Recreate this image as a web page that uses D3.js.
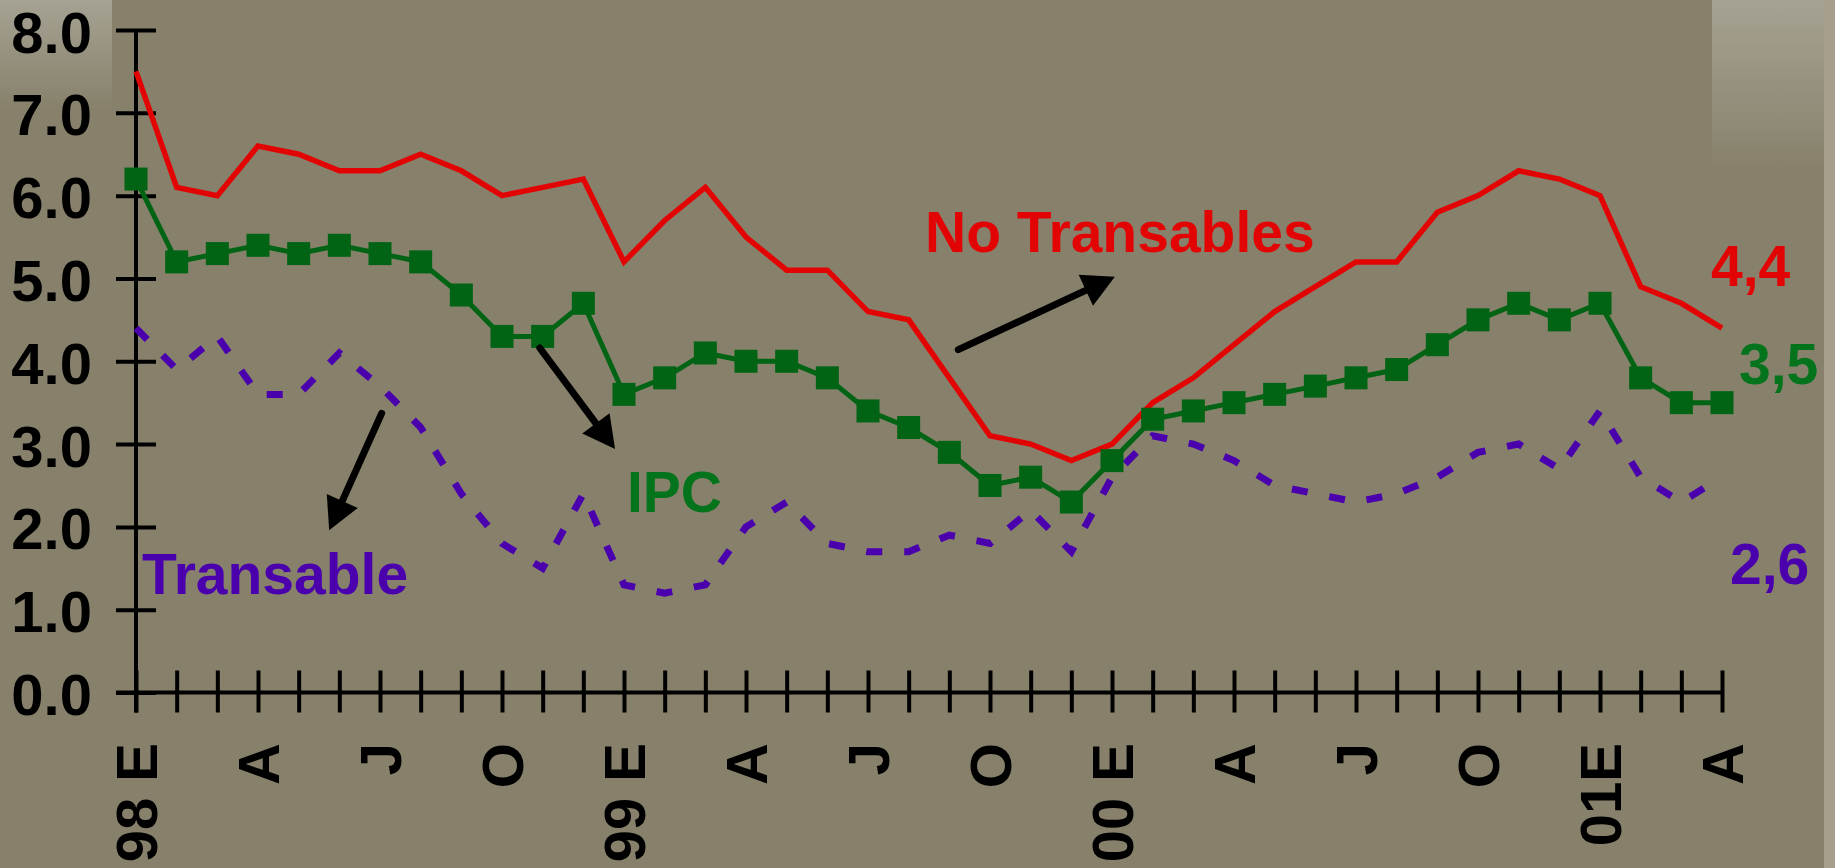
<!DOCTYPE html>
<html>
<head>
<meta charset="utf-8">
<script src="https://cdn.jsdelivr.net/npm/d3@7"></script>
<style>
  html, body { margin: 0; padding: 0; background: #87816b; overflow: hidden; }
  svg { display: block; font-family: "Liberation Sans", Arial, sans-serif; font-weight: bold; }
</style>
</head>
<body>
<div id="chart"></div>
<script>
// Monthly series, Jan 98 .. Apr 01
const noTransables = [7.5, 6.1, 6.0, 6.6, 6.5, 6.3, 6.3, 6.5, 6.3, 6.0, 6.1, 6.2, 5.2, 5.7, 6.1, 5.5, 5.1, 5.1, 4.6, 4.5,
                      3.8, 3.1, 3.0, 2.8, 3.0, 3.5, 3.8, 4.2, 4.6, 4.9, 5.2, 5.2, 5.8, 6.0, 6.3, 6.2, 6.0, 4.9, 4.7, 4.4];
const ipc          = [6.2, 5.2, 5.3, 5.4, 5.3, 5.4, 5.3, 5.2, 4.8, 4.3, 4.3, 4.7, 3.6, 3.8, 4.1, 4.0, 4.0, 3.8, 3.4, 3.2,
                      2.9, 2.5, 2.6, 2.3, 2.8, 3.3, 3.4, 3.5, 3.6, 3.7, 3.8, 3.9, 4.2, 4.5, 4.7, 4.5, 4.7, 3.8, 3.5, 3.5];
const transable    = [4.4, 3.9, 4.3, 3.6, 3.6, 4.1, 3.7, 3.2, 2.4, 1.8, 1.5, 2.4, 1.3, 1.2, 1.3, 2.0, 2.3, 1.8, 1.7, 1.7,
                      1.9, 1.8, 2.2, 1.7, 2.6, 3.1, 3.0, 2.8, 2.5, 2.4, 2.3, 2.4, 2.6, 2.9, 3.0, 2.7, 3.4, 2.6, 2.3, 2.6];

// x labels every three months (index -> text)
const labelIndex = [0, 3, 6, 9, 12, 15, 18, 21, 24, 27, 30, 33, 36, 39];
const labelText  = ['98 E', 'A', 'J', 'O', '99 E', 'A', 'J', 'O', '00 E', 'A', 'J', 'O', '01E', 'A'];
const yTicks = [0, 1, 2, 3, 4, 5, 6, 7, 8];

const width = 1835, height = 868;
const colors = { red: '#e20404', green: '#006414', greenText: '#03731c', purple: '#4a00ad', bg: '#87816b' };

const svg = d3.select('#chart').append('svg')
    .attr('width', width)
    .attr('height', height);

// Background with the lighter slide patches
const defs = svg.append('defs');
const grad = defs.append('linearGradient')
    .attr('id', 'fade').attr('x1', 0).attr('y1', 0).attr('x2', 0).attr('y2', 1);
grad.append('stop').attr('offset', '0%').attr('stop-color', '#a6a293');
grad.append('stop').attr('offset', '100%').attr('stop-color', colors.bg);

svg.append('rect').attr('width', width).attr('height', height).attr('fill', colors.bg);
svg.append('rect').attr('x', 0).attr('y', 0).attr('width', 112).attr('height', 110).attr('fill', 'url(#fade)');
svg.append('rect').attr('x', 1712).attr('y', 0).attr('width', 112).attr('height', 170).attr('fill', 'url(#fade)');
svg.append('rect').attr('x', 1824).attr('y', 0).attr('width', 11).attr('height', height).attr('fill', '#a59f8c');

// Scales
const x = d3.scaleLinear().domain([0, noTransables.length - 1]).range([136, 1722]);
const y = d3.scaleLinear().domain([0, 8]).range([692.5, 30]);

// Y axis (ticks cross the axis line)
const yAxis = svg.append('g')
    .attr('transform', `translate(${x(0)},0)`)
    .call(d3.axisLeft(y).tickValues(yTicks).tickSize(20).tickSizeOuter(0).tickFormat(d3.format('.1f')));
yAxis.select('.domain').attr('stroke', '#000').attr('stroke-width', 4)
    .attr('d', `M0,${y(8)}V${y(0) + 20}`);
yAxis.selectAll('.tick line').attr('x1', -20).attr('x2', 20).attr('stroke', '#000').attr('stroke-width', 4);
yAxis.selectAll('.tick text')
    .attr('x', -44).attr('dy', '0.38em')
    .attr('fill', '#000')
    .style('font-size', '58px').style('font-weight', 'bold')
    .style('font-family', '"Liberation Sans", Arial, sans-serif');

// X axis
const xAxis = svg.append('g')
    .attr('transform', `translate(0,${y(0)})`)
    .call(d3.axisBottom(x).tickValues(d3.range(noTransables.length)).tickSize(20).tickSizeOuter(0).tickFormat(''));
xAxis.select('.domain').attr('stroke', '#000').attr('stroke-width', 4)
    .attr('d', `M${x(0) - 20},0H${x(39)}`);
xAxis.selectAll('.tick line').attr('y1', -22).attr('y2', 20).attr('stroke', '#000').attr('stroke-width', 4);

// Rotated month labels
svg.append('g').selectAll('text')
    .data(labelIndex)
    .join('text')
    .attr('transform', d => `translate(${x(d) + 21},743) rotate(-90)`)
    .attr('text-anchor', 'end')
    .attr('fill', '#000')
    .style('font-size', '58px')
    .text((d, i) => labelText[i]);

const line = d3.line().x((d, i) => x(i)).y(d => y(d));

// Transable (dashed purple)
svg.append('path')
    .datum(transable)
    .attr('d', line)
    .attr('fill', 'none')
    .attr('stroke', colors.purple)
    .attr('stroke-width', 7)
    .attr('stroke-dasharray', '16,22');

// No Transables (red)
svg.append('path')
    .datum(noTransables)
    .attr('d', line)
    .attr('fill', 'none')
    .attr('stroke', colors.red)
    .attr('stroke-width', 5.5);

// IPC (green with square markers)
svg.append('path')
    .datum(ipc)
    .attr('d', line)
    .attr('fill', 'none')
    .attr('stroke', colors.green)
    .attr('stroke-width', 5);
svg.append('g').selectAll('rect')
    .data(ipc)
    .join('rect')
    .attr('x', (d, i) => x(i) - 11.5)
    .attr('y', d => y(d) - 11.5)
    .attr('width', 23)
    .attr('height', 23)
    .attr('fill', colors.green);

// Arrows, given in data space (month index, value)
const arrows = [
    { from: [20.22, 4.14], to: [24.07, 5.02] },
    { from: [9.93, 4.16], to: [11.78, 2.94] },
    { from: [6.04, 3.37], to: [4.75, 1.96] }
];
arrows.forEach(a => {
    const x0 = x(a.from[0]), y0 = y(a.from[1]);
    const x1 = x(a.to[0]), y1 = y(a.to[1]);
    const ang = Math.atan2(y1 - y0, x1 - x0);
    const headLen = 32, headHalf = 17;
    const bx = x1 - headLen * Math.cos(ang), by = y1 - headLen * Math.sin(ang);
    svg.append('line')
        .attr('x1', x0).attr('y1', y0).attr('x2', bx + 4 * Math.cos(ang)).attr('y2', by + 4 * Math.sin(ang))
        .attr('stroke', '#000').attr('stroke-width', 7).attr('stroke-linecap', 'round');
    const px = -Math.sin(ang) * headHalf, py = Math.cos(ang) * headHalf;
    svg.append('path')
        .attr('d', `M${x1},${y1}L${bx + px},${by + py}L${bx - px},${by - py}Z`)
        .attr('fill', '#000');
});

// Series annotations
const notes = [
    { text: 'No Transables', x: 925, y: 251.7, color: colors.red },
    { text: 'IPC', x: 627, y: 511.7, color: colors.greenText },
    { text: 'Transable', x: 142, y: 594, color: colors.purple },
    { text: '4,4', x: 1711, y: 286, color: colors.red },
    { text: '3,5', x: 1739, y: 384, color: colors.greenText },
    { text: '2,6', x: 1730, y: 584, color: colors.purple }
];
svg.append('g').selectAll('text')
    .data(notes)
    .join('text')
    .attr('x', d => d.x)
    .attr('y', d => d.y)
    .attr('fill', d => d.color)
    .style('font-size', '57px')
    .text(d => d.text);
</script>
</body>
</html>
